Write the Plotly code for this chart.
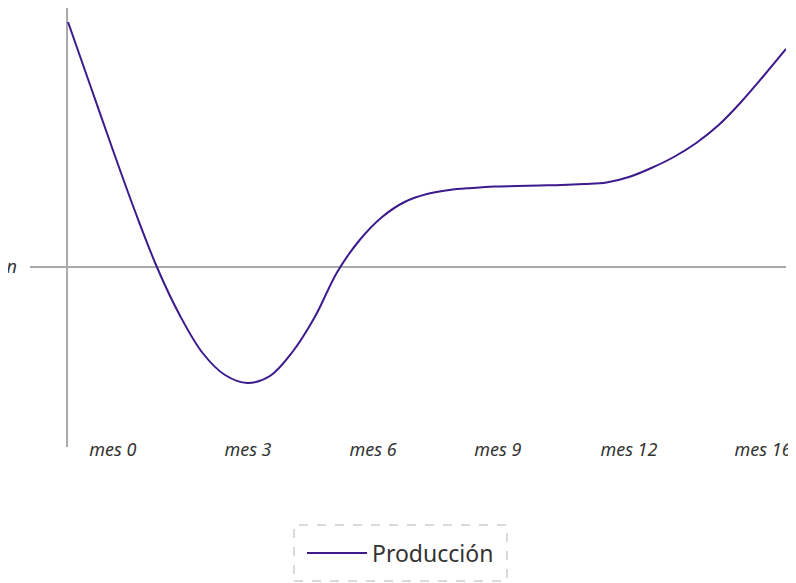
import plotly.graph_objects as go

# ---- data ----
months = [0, 0.5, 1, 1.5, 2, 2.5, 3, 3.5, 4, 4.5, 5, 5.5, 6, 6.5, 7, 7.5, 8,
          8.5, 9, 9.5, 10, 10.5, 11, 11.5, 12, 12.5, 13, 13.5, 14, 14.5, 15, 15.5, 16]
produccion = [245, 181, 117, 55, -2, -49, -86, -108, -116, -109, -85, -50, -5,
              27, 50, 65, 73, 77, 79, 80.5, 81, 81.5, 82, 83, 84.5, 90, 99, 110,
              124, 142, 165, 191, 218]

tick_positions = [1.00, 4.01, 6.80, 9.58, 12.50, 15.49]
tick_labels = ["mes 0", "mes 3", "mes 6", "mes 9", "mes 12", "mes 16"]
y_tick_values = [0]
y_tick_labels = ["n"]

# ---- layout geometry ----
# The page body has an 8px margin, so the figure is drawn 8px in from the
# window's top-left corner; all page pixel positions are shifted by OFF.
OFF = 8
W, H = 796 - OFF, 583 - OFF
L, R, T = 30 - OFF, 10, 22 - OFF
plot_bottom_page = 437
B = H - (plot_bottom_page - OFF)
pw, ph = W - L - R, H - T - B

def px_x(page_px):
    return (page_px - OFF - L) / pw

def px_y(page_py):
    return (H - B - (page_py - OFF)) / ph

line_color = "#3d1a8e"
axis_color = "#aaaaaa"
text_color = "#333333"
font_family = "Noto Sans, Open Sans, DejaVu Sans, sans-serif"

fig = go.Figure()
fig.add_trace(go.Scatter(
    x=months, y=produccion, mode="lines", name="Producción",
    line=dict(color=line_color, width=2, shape="spline", smoothing=1.0),
    cliponaxis=False,
))

x_per_px = 16 / (786 - 68)
x0_range = 0 - (68 - 30) * x_per_px
x1_range = 16
y_top = 245
y_bottom = y_top - ph

fig.update_layout(
    width=W, height=H,
    margin=dict(l=L, r=R, t=T, b=B, pad=0, autoexpand=False),
    paper_bgcolor="white", plot_bgcolor="white",
    font=dict(family=font_family, color=text_color),
    showlegend=True,
    legend=dict(
        orientation="h", x=px_x(302), xanchor="left",
        y=px_y(553), yanchor="middle",
        font=dict(size=23, color=text_color, family=font_family),
        bgcolor="rgba(0,0,0,0)", borderwidth=0, itemwidth=60,
    ),
    xaxis=dict(
        range=[x0_range, x1_range], automargin=False,
        showgrid=False, zeroline=False, showline=False,
        tickmode="array", tickvals=tick_positions, ticktext=tick_labels,
        tickfont=dict(size=18, color=text_color, family=font_family, style="italic"),
        ticks="",
    ),
    yaxis=dict(
        range=[y_bottom, y_top], automargin=False,
        showgrid=False, zeroline=True, zerolinecolor=axis_color, zerolinewidth=2,
        showline=False,
        tickmode="array", tickvals=y_tick_values, ticktext=y_tick_labels,
        tickfont=dict(size=18, color=text_color, family=font_family, style="italic"),
        ticks="", ticklabelstandoff=12,
    ),
    shapes=[
        dict(type="line", xref="x", yref="paper", x0=-0.022, x1=-0.022,
             y0=px_y(447), y1=px_y(8),
             line=dict(color=axis_color, width=2), layer="below"),
        dict(type="rect", xref="paper", yref="paper",
             x0=px_x(294), x1=px_x(507), y0=px_y(581), y1=px_y(525),
             line=dict(color="#b5b5b5", width=1, dash="dash")),
    ],
)

fig.write_html("out.html")
